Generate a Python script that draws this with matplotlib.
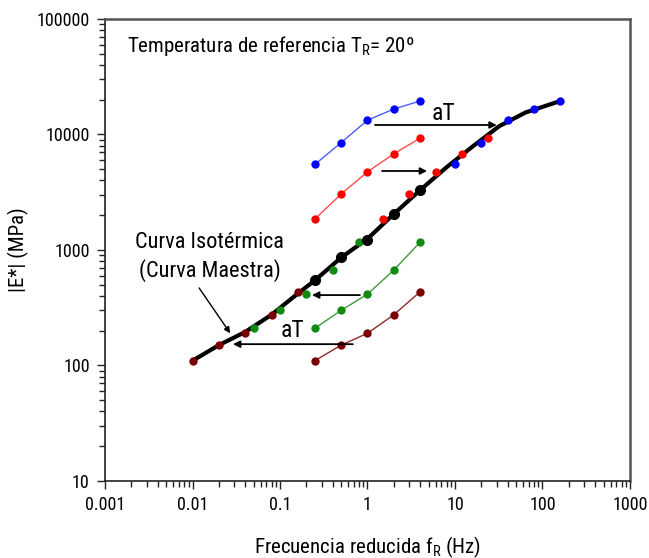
import matplotlib.pyplot as plt
from matplotlib import font_manager
from matplotlib.ticker import LogLocator, FixedLocator, FixedFormatter, NullFormatter

# a narrow sans face if one is installed, otherwise plain Liberation Sans
names = {f.name for f in font_manager.fontManager.ttflist}
narrow = [n for n in ('Liberation Sans Narrow', 'Roboto Condensed',
                      'DejaVu Sans Condensed', 'Open Sans Condensed',
                      'Noto Sans Condensed') if n in names]
plt.rcParams['font.family'] = narrow + ['Liberation Sans', 'DejaVu Sans']
scale = 1.0 if narrow else 0.82

# measured frequencies (Hz) at each temperature
freq = [0.25, 0.5, 1, 2, 4]
E_blue = [5500, 8500, 13300, 16600, 19500]
E_red = [1850, 3050, 4750, 6800, 9300]
E_ref = [550, 870, 1220, 2050, 3300]      # reference temperature 20º
E_green = [210, 300, 415, 670, 1170]
E_darkred = [110, 150, 190, 275, 435]

# reduced frequencies after shifting (aT)
freq_blue_red = [10, 20, 40, 80, 160]
freq_red_red = [1.5, 3, 6, 12, 24]
freq_green_red = [0.05, 0.1, 0.2, 0.4, 0.8]
freq_darkred_red = [0.01, 0.02, 0.04, 0.08, 0.16]

# master curve
master_f = [0.01, 0.02, 0.04, 0.08, 0.16, 0.25, 0.5, 1, 2, 4, 8, 16, 32, 64, 160]
master_E = [110, 150, 195, 275, 420, 545, 860, 1250, 2050, 3300, 5200, 7900,
            11800, 15500, 19500]

x_ticks = [0.001, 0.01, 0.1, 1, 10, 100, 1000]
x_tick_labels = ['0.001', '0.01', '0.1', '1', '10', '100', '1000']
y_ticks = [10, 100, 1000, 10000, 100000]
y_tick_labels = ['10', '100', '1000', '10000', '100000']

series = [
    (E_blue, freq_blue_red, '#0000ff', '#4d5cff'),
    (E_red, freq_red_red, '#ff0000', '#ff4a4a'),
    (E_green, freq_green_red, '#118a11', '#3d9a3d'),
    (E_darkred, freq_darkred_red, '#7a0000', '#8c2a2a'),
]

fig = plt.figure(figsize=(6.49, 5.58), dpi=100)
ax = fig.add_axes([0.1618, 0.1380, 0.8089, 0.8280])

ax.plot(master_f, master_E, color='black', lw=3, zorder=3,
        solid_capstyle='round', solid_joinstyle='round')

for E, f_red, col, lcol in series:
    ax.plot(freq, E, '-', color=lcol, lw=1, zorder=2)
    ax.plot(freq, E, 'o', color=col, ms=6, mec='none', zorder=4)
    ax.plot(f_red, E, 'o', color=col, ms=6, mec='none', zorder=4)

ax.plot(freq, E_ref, 'o', color='black', ms=8, mec='none', zorder=5)

ax.set_xscale('log')
ax.set_yscale('log')
ax.set_xlim(0.001, 1000)
ax.set_ylim(10, 100000)

ax.xaxis.set_major_locator(FixedLocator(x_ticks))
ax.xaxis.set_major_formatter(FixedFormatter(x_tick_labels))
ax.yaxis.set_major_locator(FixedLocator(y_ticks))
ax.yaxis.set_major_formatter(FixedFormatter(y_tick_labels))
for axis in (ax.xaxis, ax.yaxis):
    axis.set_minor_locator(LogLocator(base=10, subs=range(2, 10), numticks=20))
    axis.set_minor_formatter(NullFormatter())

ax.tick_params(which='major', direction='out', length=6, width=1,
               labelsize=13 * scale, color='#222222', pad=5)
ax.tick_params(which='minor', direction='out', length=4, width=1,
               color='#222222')
for side in ('left', 'bottom'):
    ax.spines[side].set_color('#222222')
    ax.spines[side].set_linewidth(1.2)
for side in ('top', 'right'):
    ax.spines[side].set_color('#555555')
    ax.spines[side].set_linewidth(1.8)

ax.set_xlabel(r'Frecuencia reducida f$_\mathregular{R}$ (Hz)', fontsize=15 * scale)
ax.xaxis.set_label_coords(0.5, -0.115)
ax.set_ylabel('|E*| (MPa)', fontsize=15 * scale)
ax.yaxis.set_label_coords(-0.145, 0.5)

ax.text(0.00178, 58000, r'Temperatura de referencia T$_\mathregular{R}$= 20º',
        fontsize=15 * scale, va='center', ha='left')

arrow = dict(arrowstyle='-|>', color='black', lw=1.3, mutation_scale=10,
             shrinkA=0, shrinkB=0)
ax.annotate('', xy=(30, 12080), xytext=(1.22, 12080), arrowprops=arrow, zorder=6)
ax.annotate('', xy=(4.8, 4830), xytext=(1.47, 4830), arrowprops=arrow, zorder=6)
ax.annotate('', xy=(0.232, 407), xytext=(0.82, 407), arrowprops=arrow, zorder=6)
ax.annotate('', xy=(0.029, 153), xytext=(0.68, 153), arrowprops=arrow, zorder=6)

ax.text(7.3, 15300, 'aT', fontsize=17 * scale, ha='center', va='center')
ax.text(0.137, 199, 'aT', fontsize=17 * scale, ha='center', va='center')

ax.text(0.0158, 870, 'Curva Isotérmica\n(Curva Maestra)', ha='center',
        va='center', fontsize=16 * scale, linespacing=1.3)
ax.annotate('', xy=(0.027, 190), xytext=(0.0119, 469),
            arrowprops=dict(arrowstyle='-|>', color='black', lw=1,
                            mutation_scale=9, shrinkA=0, shrinkB=0))

fig.savefig('out.png', dpi=100)
